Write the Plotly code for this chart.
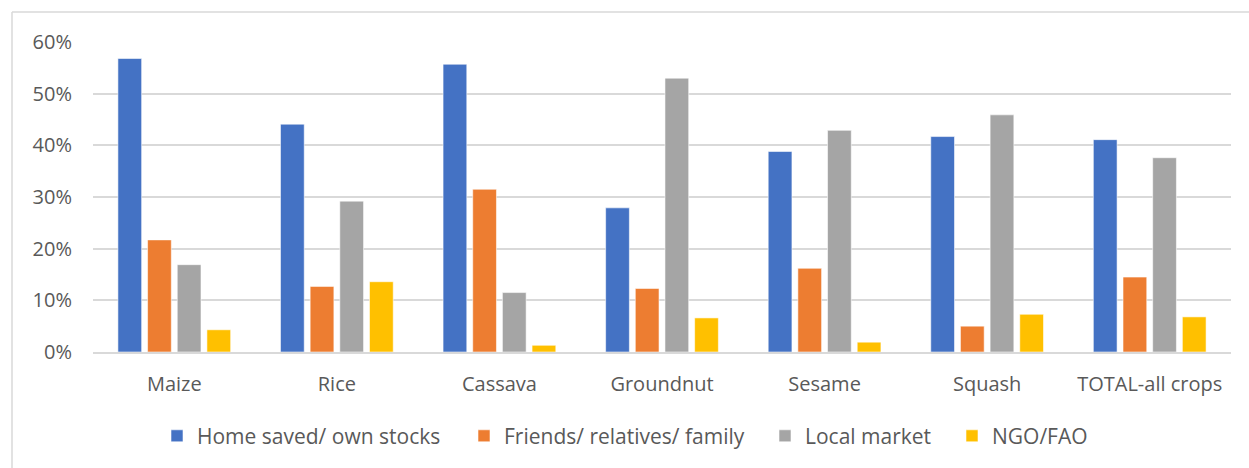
import plotly.graph_objects as go

# Seed source shares by crop
crops = ["Maize", "Rice", "Cassava", "Groundnut", "Sesame", "Squash", "TOTAL-all crops"]
home_saved = [0.568, 0.441, 0.557, 0.279, 0.388, 0.417, 0.411]
friends_family = [0.217, 0.127, 0.315, 0.123, 0.162, 0.050, 0.145]
local_market = [0.169, 0.292, 0.115, 0.530, 0.429, 0.459, 0.376]
ngo_fao = [0.043, 0.136, 0.013, 0.066, 0.019, 0.073, 0.068]

series_names = ["Home saved/ own stocks", "Friends/ relatives/ family", "Local market", "NGO/FAO"]
series_values = [home_saved, friends_family, local_market, ngo_fao]
series_colors = ["#4472C4", "#ED7D31", "#A5A5A5", "#FFC000"]

W, H = 1249, 468
ML, MR, MT, MB = 93, 18, 42, 116
FONT = "Open Sans, Segoe UI, Liberation Sans, sans-serif"
TEXT_COLOR = "#595959"
GRID_COLOR = "#D9D9D9"

# One legend per series so each key sits at its own spot along the bottom row
legend_ids = ["legend", "legend2", "legend3", "legend4"]
legend_text_x = [202, 509, 810, 997]

fig = go.Figure()
for name, vals, color, lid in zip(series_names, series_values, series_colors, legend_ids):
    fig.add_trace(go.Bar(
        x=crops, y=vals, name=name, legend=lid,
        marker=dict(color=color, line=dict(color="rgba(255,255,255,0.7)", width=0.8)),
    ))

legend_layout = {}
for lid, tx in zip(legend_ids, legend_text_x):
    legend_layout[lid] = dict(
        orientation="h", xref="container", yref="container",
        x=(tx - 45) / W, xanchor="left", y=0.068, yanchor="middle",
        bgcolor="rgba(0,0,0,0)",
        font=dict(family=FONT, size=21, color=TEXT_COLOR),
    )

# Outer chart frame (left and top edges visible)
pw, ph = W - ML - MR, H - MT - MB
def px_to_paper_x(px):
    return (px - ML) / pw
def px_to_paper_y(py):
    return (H - MB - py) / ph

frame = dict(type="line", xref="paper", yref="paper",
             line=dict(color=GRID_COLOR, width=1.5), layer="below")
fig.add_shape(**frame, x0=px_to_paper_x(12), x1=px_to_paper_x(12),
              y0=px_to_paper_y(12), y1=px_to_paper_y(H + 10))
fig.add_shape(**frame, x0=px_to_paper_x(12), x1=px_to_paper_x(W + 10),
              y0=px_to_paper_y(12), y1=px_to_paper_y(12))

fig.update_layout(
    width=W, height=H,
    margin=dict(l=ML, r=MR, t=MT, b=MB, pad=0),
    paper_bgcolor="white", plot_bgcolor="white",
    barmode="group", bargap=0.27, bargroupgap=0.2,
    font=dict(family=FONT, size=20, color=TEXT_COLOR),
    showlegend=True,
    **legend_layout,
    xaxis=dict(showgrid=False, showline=True, linecolor=GRID_COLOR, linewidth=1.5,
               ticks="", ticklabelstandoff=13,
               tickfont=dict(family=FONT, size=20, color=TEXT_COLOR)),
    yaxis=dict(range=[0, 0.6], dtick=0.1, tickformat=".0%",
               showgrid=True, gridcolor=GRID_COLOR, gridwidth=1.5,
               zeroline=False, showline=False, ticks="", ticklabelstandoff=20,
               tickfont=dict(family=FONT, size=20, color=TEXT_COLOR)),
)

fig.write_html("out.html")
